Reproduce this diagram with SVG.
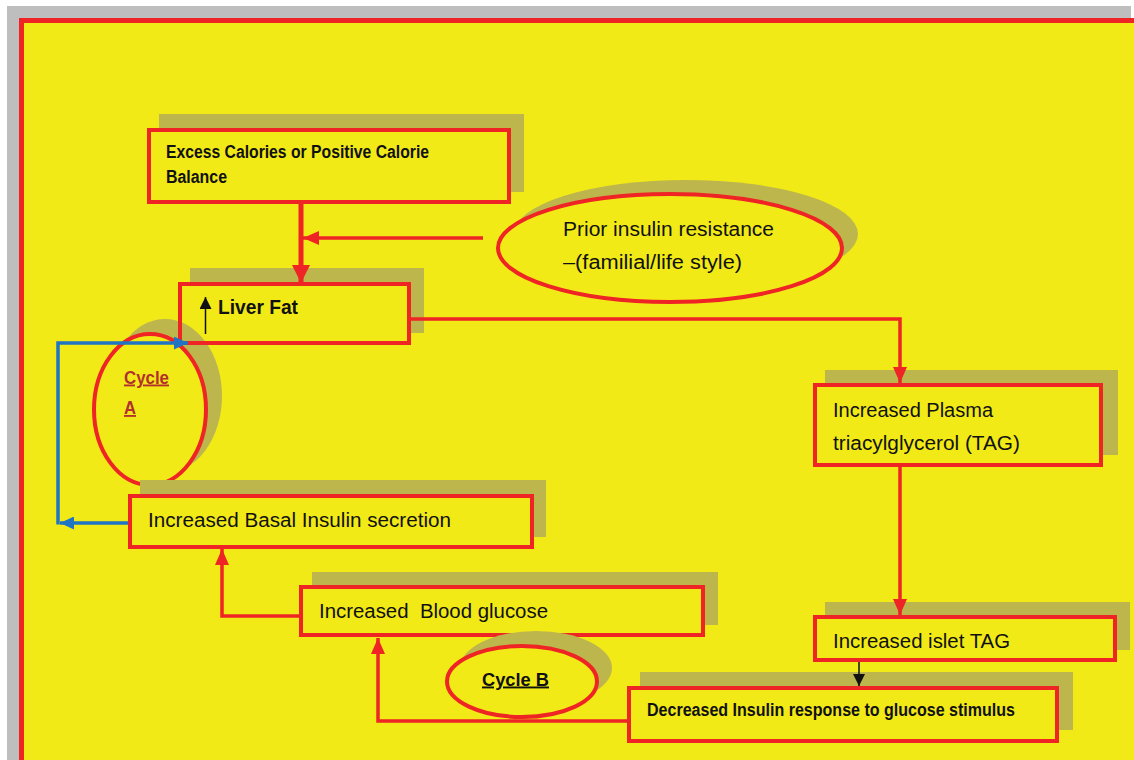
<svg xmlns="http://www.w3.org/2000/svg" width="1134" height="760" viewBox="0 0 1134 760">
<style>
.box{fill:#F1EA17;stroke:#EE2524;stroke-width:4}
.boxo{fill:none;stroke:#EE2524;stroke-width:4}
.sh{fill:#BDB64D}
.t{font-family:"Liberation Sans",Arial,sans-serif;font-size:20px;fill:#111}
.tb{font-family:"Liberation Sans",Arial,sans-serif;font-weight:bold;fill:#111}
.red{fill:none;stroke:#EE2524;stroke-width:3.5}
.blue{fill:none;stroke:#1F74C4;stroke-width:3.5}
.blk{fill:none;stroke:#111;stroke-width:1.5}
</style>
<defs>
<marker id="ar" markerUnits="userSpaceOnUse" viewBox="0 0 16 14" markerWidth="16" markerHeight="14" refX="16" refY="7" orient="auto"><path d="M0,0L16,7L0,14z" fill="#EE2524"/></marker>
<marker id="arb" markerUnits="userSpaceOnUse" viewBox="0 0 18 18" markerWidth="18" markerHeight="18" refX="18" refY="9" orient="auto"><path d="M0,0L18,9L0,18z" fill="#EE2524"/></marker>
<marker id="ab" markerUnits="userSpaceOnUse" viewBox="0 0 14 13" markerWidth="14" markerHeight="13" refX="14" refY="6.5" orient="auto"><path d="M0,0L14,6.5L0,13z" fill="#1F74C4"/></marker>
<marker id="ak" markerUnits="userSpaceOnUse" viewBox="0 0 12 12" markerWidth="12" markerHeight="12" refX="12" refY="6" orient="auto"><path d="M0,0L12,6L0,12z" fill="#111"/></marker>
</defs>
<rect x="0" y="0" width="1134" height="760" fill="#FFFFFF"/>
<rect x="7" y="6" width="1124" height="754" fill="#BEBEBE"/>
<rect x="19" y="18" width="1115" height="742" fill="#EE2524"/>
<rect x="24" y="23" width="1110" height="737" fill="#F1EA17"/>

<g id="excess">
<rect class="sh" x="159" y="114" width="365" height="78"/>
<rect class="box" x="149" y="130" width="360" height="72"/>
<text class="tb" font-size="17.5" x="166" y="158" textLength="263" lengthAdjust="spacingAndGlyphs">Excess Calories or Positive Calorie</text>
<text class="tb" font-size="17.5" x="166" y="182.5" textLength="61" lengthAdjust="spacingAndGlyphs">Balance</text>
</g>

<g id="prior">
<ellipse class="sh" cx="686" cy="234" rx="172" ry="54"/>
<ellipse class="box" cx="670" cy="248" rx="172" ry="54"/>
<text class="t" x="563" y="236" textLength="211" lengthAdjust="spacingAndGlyphs">Prior insulin resistance</text>
<text class="t" x="563" y="269" textLength="179" lengthAdjust="spacingAndGlyphs">–(familial/life style)</text>
</g>

<g id="cycleA">
<ellipse cx="165" cy="396" rx="57" ry="77" fill="#BDB64D"/>
<ellipse class="box" cx="150" cy="409.5" rx="56" ry="75.5"/>
<text class="tb" font-size="18.5" x="124" y="383.5" style="fill:#B2302D" text-decoration="underline" textLength="45" lengthAdjust="spacingAndGlyphs">Cycle</text>
<text class="tb" font-size="18.5" x="124" y="414" style="fill:#B2302D" text-decoration="underline" textLength="12" lengthAdjust="spacingAndGlyphs">A</text>
</g>

<g id="liver">
<polygon class="sh" points="190,268 424,268 424,333 411,333 411,283 190,283"/>
<rect class="boxo" x="180" y="284" width="229" height="59"/>
<text class="tb" font-size="20" x="218" y="314" textLength="80" lengthAdjust="spacingAndGlyphs">Liver Fat</text>
<line class="blk" x1="205.5" y1="334" x2="205.5" y2="297" marker-end="url(#ak)"/>
</g>

<g id="plasma">
<rect class="sh" x="825" y="370" width="293" height="85"/>
<rect class="box" x="815" y="385" width="286" height="80"/>
<text class="t" x="833" y="417" textLength="160" lengthAdjust="spacingAndGlyphs">Increased Plasma</text>
<text class="t" x="833" y="450" textLength="187" lengthAdjust="spacingAndGlyphs">triacylglycerol (TAG)</text>
</g>

<g id="basal">
<rect class="sh" x="140" y="480" width="406" height="57"/>
<rect class="box" x="130" y="496" width="402" height="51"/>
<text class="t" x="148" y="527" textLength="303" lengthAdjust="spacingAndGlyphs">Increased Basal Insulin secretion</text>
</g>

<g id="glucose">
<rect class="sh" x="312" y="572" width="406" height="53"/>
<rect class="box" x="301" y="587" width="402" height="48"/>
<text class="t" x="319" y="618" xml:space="preserve" textLength="229" lengthAdjust="spacingAndGlyphs">Increased  Blood glucose</text>
</g>

<g id="islet">
<rect class="sh" x="825" y="602" width="305" height="48"/>
<rect class="box" x="815" y="617" width="300" height="43"/>
<text class="t" x="833" y="648" textLength="177" lengthAdjust="spacingAndGlyphs">Increased islet TAG</text>
</g>

<g id="cycleB">
<ellipse class="sh" cx="536" cy="668" rx="76" ry="37"/>
<ellipse class="box" cx="522" cy="681.5" rx="75" ry="35.5"/>
<text class="tb" font-size="19" x="482" y="685.5" text-decoration="underline" textLength="67" lengthAdjust="spacingAndGlyphs">Cycle B</text>
</g>

<g id="decreased">
<rect class="sh" x="640" y="672" width="433" height="58"/>
<rect class="box" x="629" y="688" width="428" height="53"/>
<text class="tb" font-size="17.5" x="647" y="716" textLength="368" lengthAdjust="spacingAndGlyphs">Decreased Insulin response to glucose stimulus</text>
</g>

<g id="connectors">
<line x1="301" y1="204" x2="301" y2="283" stroke="#EE2524" stroke-width="5" marker-end="url(#arb)"/>
<line class="red" x1="483" y1="238" x2="303" y2="238" marker-end="url(#ar)"/>
<path class="red" d="M411,319H900V383" marker-end="url(#ar)"/>
<line class="red" x1="900" y1="467" x2="900" y2="615" marker-end="url(#ar)"/>
<line class="blk" x1="859" y1="662" x2="859" y2="686" marker-end="url(#ak)"/>
<path class="red" d="M627,721H378V638" marker-end="url(#ar)"/>
<path class="red" d="M300,616H222V549" marker-end="url(#ar)"/>
<line class="blue" x1="128" y1="523" x2="60" y2="523" marker-end="url(#ab)"/>
<path class="blue" d="M58,524.5V343H188" marker-end="url(#ab)"/>
</g>
</svg>
